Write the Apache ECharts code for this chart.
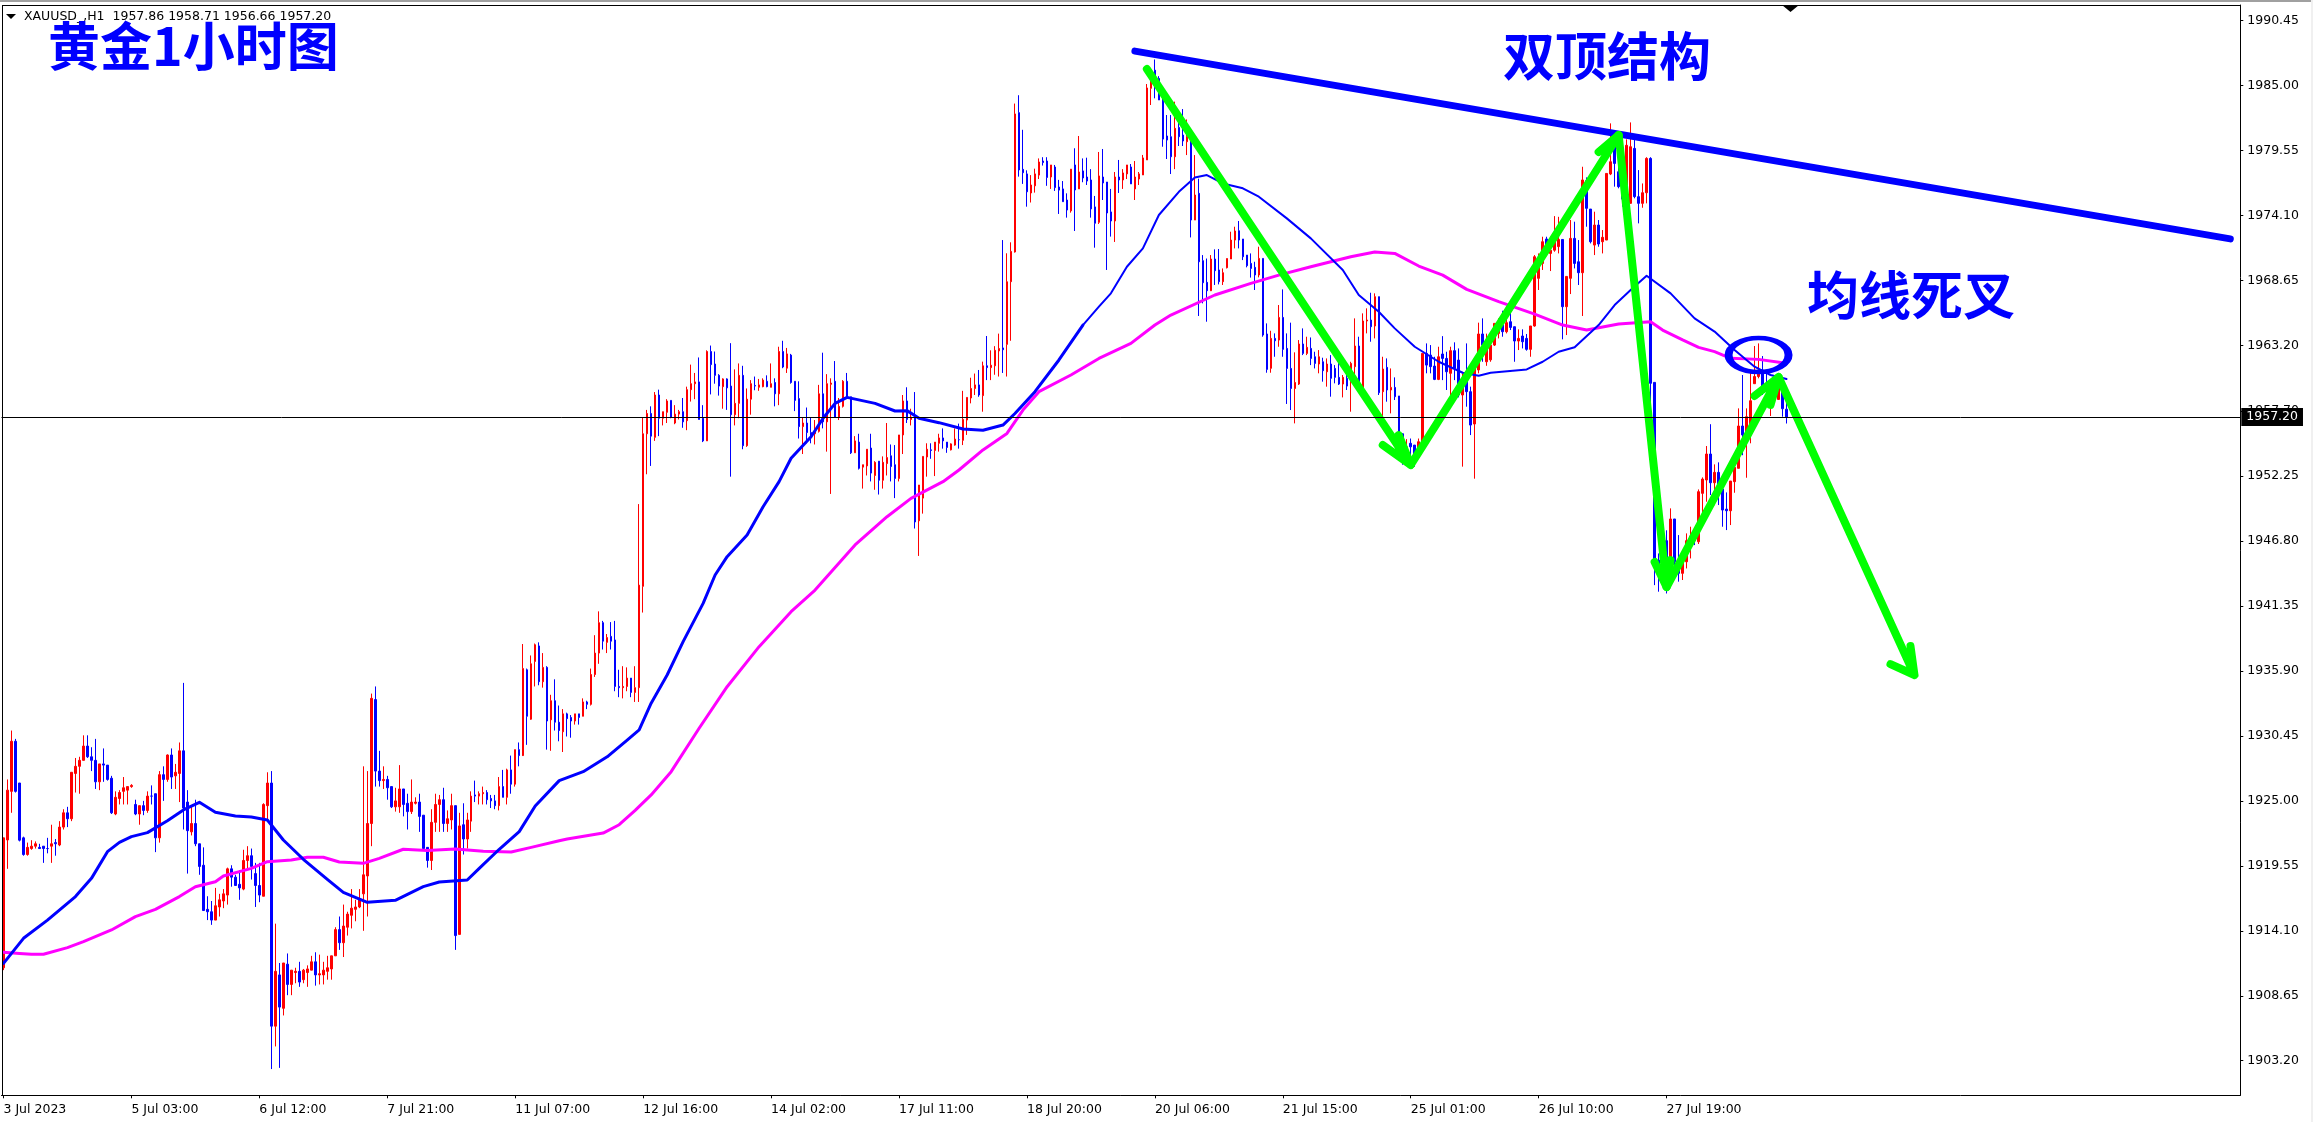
<!DOCTYPE html>
<html><head><meta charset="utf-8"><title>XAUUSD H1</title>
<script src="https://cdn.jsdelivr.net/npm/echarts@6/dist/echarts.min.js"></script>
<style>html,body{margin:0;padding:0;background:#fff}#c{width:2313px;height:1122px}</style></head>
<body><div id="c"></div>
<script>
const opens=[
1911,1921.72,1925.8,1930,1926.5,1921.9,1920.5,1921,1921.2,1921.1,
1921.2,1921,1921.2,1921.5,1921.3,1922.8,1924,1923.5,1927.3,1927.9,
1928.4,1929.6,1928.7,1928.4,1926.6,1928.1,1928,1926.9,1923.9,1925.2,
1925.8,1925.9,1926.2,1924.7,1923.9,1924.6,1924.2,1925.4,1925.6,1921.9,
1927.2,1926.8,1928.85,1927.1,1927.3,1929.2,1924.9,1922.4,1923.1,1921.4,
1919.6,1915.9,1915.7,1915,1916.1,1916.6,1917.1,1919.3,1918.6,1918,
1917.6,1920,1920.4,1918.9,1917.9,1917,1924.6,1926.5,1906.1,1910.4,
1907.6,1911.3,1909.6,1910.6,1910.7,1910,1910.6,1910.8,1911.5,1910.4,
1910.4,1910.7,1910.9,1912,1914.2,1913.1,1914.4,1915.4,1915.9,1916.1,
1917.2,1918.7,1923.1,1933.5,1927.5,1926.7,1926.8,1926.2,1924.5,1924.5,
1926,1924.8,1924.1,1924.8,1924.9,1923.8,1921.1,1920,1923.2,1924.7,
1925.1,1923.1,1923.4,1924.6,1913.8,1923,1921.8,1923.3,1925.5,1925.4,
1925.6,1925.7,1925.2,1925,1924.6,1926.2,1925.3,1927.6,1926.4,1929.3,
1928.8,1936,1931.85,1936.7,1938,1935,1936.2,1931.8,1933.4,1931.6,
1930.8,1932.3,1932,1931.7,1932.3,1932.1,1933.3,1933.1,1935.6,1937.4,
1939.95,1938.3,1938.8,1938.5,1934.6,1934.5,1934.6,1935.3,1934.1,1934.5,
1943,1955.8,1957.5,1955.5,1959.05,1957.1,1957.6,1958.6,1956.7,1957.45,
1957.65,1956.9,1959.5,1960,1960.15,1957.1,1955.2,1962.7,1961.65,1960.7,
1959.75,1960.4,1959.8,1957.4,1958.35,1960.7,1954.8,1958.7,1959.85,1959.7,
1959.75,1960.2,1959.7,1960.1,1959.15,1962.7,1961.3,1962.4,1960.2,1958.75,
1956.4,1956.7,1955.9,1955.8,1956,1959.15,1956.8,1959.95,1960.2,1957.2,
1958.1,1960.2,1958.9,1954.2,1955.1,1953,1953.1,1954.6,1952.3,1953.5,
1951.9,1953.3,1953.95,1953.2,1952.05,1955.7,1958.55,1957,1957.35,1948.5,
1950.4,1953.85,1954.45,1954.4,1955,1955.45,1955.1,1954.45,1954.85,1955.3,
1955.25,1956.95,1958.8,1959.6,1959.9,1959,1961.5,1961.35,1961.5,1962.75,
1963,1963.3,1968.56,1971.05,1982.74,1977.98,1977.6,1976,1976.6,1977.5,
1978.68,1978.68,1977.34,1978.18,1976.5,1976.34,1975.41,1974.5,1978.35,1976.34,
1977.85,1977.34,1977.09,1974.83,1973.54,1977.34,1976.92,1974.41,1973.65,1977.34,
1977.09,1977.6,1978.18,1976.34,1977.17,1977.51,1978.77,1984.78,1986.3,1985.6,
1983.8,1980.78,1980.72,1979.04,1981.5,1980.86,1980.3,1980.44,1973.73,1975.97,
1970.32,1968.5,1967.8,1970.46,1969.54,1968.56,1969.73,1970.46,1972.05,1972.83,
1972.14,1970.79,1970.09,1969.76,1969.12,1970.51,1964.17,1961.29,1963.8,1963.66,
1965.56,1962.96,1961.28,1959.6,1959.97,1963.33,1962.54,1962.96,1962.26,1961.65,
1961.84,1961,1961.65,1961.28,1960.53,1959.97,1960.45,1960.3,1961.43,1963.16,
1959.6,1965.26,1965.34,1964.84,1967.3,1959.33,1961.37,1959.47,1959.69,1958.97,
1955.8,1953.3,1955,1954.85,1954.15,1955.13,1962.54,1962.4,1961.48,1960.36,
1962.49,1962.12,1960.87,1962.77,1961.98,1959.05,1960.87,1959.33,1956.62,1961.15,
1964.17,1961.84,1962,1963.24,1964.22,1964.92,1964.36,1965.2,1964.78,1963.58,
1964,1963.8,1962.88,1964.84,1968.84,1970.09,1972.14,1970.93,1971.2,1971.5,
1972.1,1966.46,1968.84,1972.19,1970.23,1969.31,1977.03,1974.65,1971.63,1973.31,
1971.91,1972.05,1977.59,1980,1977.78,1976.67,1975.7,1975.13,1979.74,1975.69,
1975.13,1976.02,1978.9,1960.11,1945.2,1944.6,1946.83,1945.2,1948.65,1945.2,
1944.09,1945.06,1946.3,1947.22,1946.74,1950.8,1951.92,1954.1,1951.69,1952.56,
1951.16,1949.48,1949.34,1951.78,1952.9,1956.45,1955.7,1955.7,1960,1960.6,
1961.15,1959.9,1958.9,1960.3,1958.68,1959.52,1957.86];
const closes=[
1921.9,1925.9,1930,1925.8,1921.7,1920.5,1921.1,1921.2,1921.4,1921,
1921,1921,1921.4,1921.4,1922.8,1924,1923.5,1927.4,1927.9,1928.4,
1929.6,1928.7,1928.4,1926.6,1928.1,1928,1926.8,1924,1925.3,1925.7,
1926.1,1926.2,1926.3,1923.9,1924.6,1924.2,1925.4,1925.4,1921.9,1927.2,
1926.8,1928.85,1927,1927.4,1929.2,1924.4,1922.5,1923.1,1921.4,1919.5,
1915.8,1915.7,1915,1916.2,1916.7,1917.2,1919.3,1918.6,1917.9,1917.7,
1920,1920.4,1919.5,1917.9,1917.1,1924.7,1926.5,1906.1,1910.7,1907.7,
1911.4,1909.6,1910.8,1910.7,1909.8,1910.8,1910.9,1911.5,1910.4,1910.5,
1910.8,1911,1912,1914.2,1913.1,1914.5,1915.5,1916,1916.1,1916.8,
1918.8,1923.1,1933.6,1927.5,1926.7,1926.8,1926.1,1924.5,1925,1926,
1924.7,1924.1,1924.9,1924.9,1923.7,1921,1920,1923.2,1924.7,1925.1,
1923.1,1923.5,1924.6,1913.7,1922.9,1921.8,1923.4,1925.4,1925.4,1925.6,
1925.7,1925.1,1925,1924.6,1926.2,1925.3,1927.6,1926.4,1929.3,1928.8,
1936.1,1932.1,1936.5,1938.1,1935,1936.2,1931.7,1933.4,1931.6,1930.9,
1932.3,1931.9,1931.7,1932.3,1932,1933.3,1933.1,1935.6,1937.4,1939.95,
1938.4,1938.7,1938.4,1934.6,1934.5,1934.6,1935.3,1934.1,1934.5,1943.1,
1955.8,1957.5,1955.6,1959.05,1957.1,1957.65,1958.55,1957.2,1957.45,1957.65,
1956.8,1959.5,1960,1960.15,1957,1955.2,1962.7,1961.6,1960.7,1959.8,
1960.4,1959.65,1957.4,1958.35,1960.7,1954.8,1958.7,1960,1959.8,1959.9,
1960.3,1959.75,1960,1959.15,1962.7,1961.4,1962.5,1960.1,1958.6,1956.4,
1956.7,1955.9,1955.6,1956.05,1959.15,1956.8,1960,1960.05,1957.2,1958.1,
1960.2,1958.9,1954.2,1955.2,1952.9,1953.2,1954.5,1952.5,1953.4,1951.9,
1953.4,1953.8,1953.05,1952.05,1955.7,1958.55,1957,1957.2,1948.4,1951.5,
1953.9,1954.5,1954.4,1955.1,1955.45,1955.2,1954.65,1954.95,1955.35,1955.3,
1957,1958.85,1959.6,1959.9,1959.05,1961.5,1961.35,1961.55,1962.8,1962.95,
1962.85,1968.55,1971.1,1982.63,1977.93,1977.7,1976.1,1976.67,1977.6,1978.6,
1978.55,1977.3,1978.35,1976.45,1976.24,1975.27,1974.57,1978,1976.25,1977.76,
1977.26,1977,1974.66,1973.46,1977.43,1976.84,1974.32,1973.65,1977.34,1977.09,
1977.68,1978.35,1976.76,1977.34,1977.6,1978.94,1984.81,1986.3,1985.47,1983.8,
1980.52,1980.44,1979.04,1981.42,1980.72,1980.36,1980.72,1973.73,1975.83,1970.23,
1968.47,1967.8,1970.46,1969.48,1968.56,1969.31,1970.5,1972.05,1972.81,1972.05,
1970.65,1969.9,1969.67,1969.12,1970.51,1964.08,1961.2,1963.8,1963.6,1965.56,
1962.88,1961.28,1959.6,1960.1,1963.33,1962.54,1963.05,1962.12,1961.7,1962.26,
1961.09,1961.65,1960.45,1960.53,1959.97,1960.53,1959.8,1961.7,1963.16,1959.6,
1965.26,1965.34,1964.78,1967.3,1959.24,1961.23,1959.47,1959.69,1958.91,1955.69,
1953.4,1954.7,1954.7,1953.9,1955.13,1962.54,1961.56,1961.43,1960.36,1962.26,
1962.12,1961,1962.77,1961.28,1959.05,1959.75,1959.33,1956.53,1961.28,1964.17,
1963.24,1963.24,1963.24,1965.06,1965.06,1964.36,1965.12,1964.72,1963.58,1963.8,
1963.52,1962.88,1964.84,1970.65,1970.09,1971.91,1970.93,1971.2,1972.33,1972.1,
1966.46,1969,1972.19,1970.09,1969.31,1977.09,1974.71,1971.91,1973.31,1971.72,
1972.28,1977.64,1978.62,1978.48,1976.53,1975.49,1980,1979.88,1975.69,1975.13,
1976.02,1978.9,1960.03,1945.2,1944.5,1945.8,1944.65,1948.65,1945.06,1944.09,
1945.06,1946.83,1947.22,1946.83,1950.94,1952,1954.1,1951.69,1952.56,1951.08,
1949.4,1949.34,1951.83,1952.98,1956.45,1955.7,1957.23,1958.57,1960.6,1961.15,
1959.75,1959.5,1959.75,1958.9,1959.75,1957.9,1957.2];
const lows=[
1910.8,1919.3,1924,1925.7,1921.6,1920.4,1920.4,1920.9,1921,1921,
1919.8,1920.6,1919.8,1920.4,1921.2,1922.6,1922.8,1923.3,1925.7,1925.6,
1928.4,1928.6,1927.5,1926,1925.9,1926.6,1926.7,1923.9,1923.8,1924.7,
1924.7,1924.7,1926.1,1923.8,1923,1923.8,1924,1924.7,1920.7,1921.5,
1925,1926.6,1926,1926,1924.9,1922.6,1918.9,1922.1,1921.2,1918.8,
1915.8,1915,1914.6,1915,1915.3,1916,1916.3,1917.8,1917.9,1916.7,
1917.5,1919.2,1918.4,1916.1,1916.5,1917,1923.4,1902.5,1904.4,1902.6,
1907,1908.7,1908.7,1909.7,1909.4,1909.7,1909.4,1910.8,1909.5,1909.6,
1909.6,1910,1910,1912,1912.5,1911.9,1913.7,1914.3,1914.9,1916,
1914.1,1915.3,1921.2,1926.2,1926.2,1926,1925.1,1924.4,1924.1,1924,
1923.7,1922.6,1923.9,1924.7,1922.4,1921,1919.4,1919.2,1922.4,1922.4,
1922.4,1922.4,1922.6,1912.5,1913.8,1920.5,1921,1922.4,1924.9,1924.7,
1924.7,1924.7,1924.4,1924.3,1924.2,1925.3,1924.7,1925.6,1926.2,1927.9,
1928.85,1929.7,1931.8,1934.6,1934.7,1934.5,1929.3,1929.2,1930.9,1930,
1929.1,1930.4,1930.3,1931.4,1931.4,1932.1,1932.7,1933,1935.4,1936.5,
1937.7,1937.4,1937.7,1934.2,1933.7,1933.6,1934.2,1933.7,1933.3,1933.3,
1940.8,1952.4,1953.1,1955.2,1955.6,1956.5,1956.7,1957.1,1956.6,1957,
1956.3,1956.1,1958.5,1958.7,1957,1955.1,1955.2,1959.1,1960,1959,
1957.9,1957.8,1952.2,1956.5,1957.1,1954.5,1954.7,1957.4,1959.45,1959.4,
1959.7,1959.7,1959.7,1958.1,1958.2,1961.3,1960.9,1960,1957.7,1955.4,
1954.1,1955,1955,1954.9,1955.9,1956.25,1954.3,1950.75,1957.2,1956.95,
1958,1958.9,1954.1,1954.2,1952.8,1951.2,1952.3,1951.8,1951.1,1950.7,
1951.2,1952.3,1951.8,1950.4,1951.8,1954.1,1956.7,1956.5,1947.85,1945.55,
1949.1,1952.2,1953.7,1952.25,1954.3,1954.55,1954.2,1954.4,1954.8,1954.55,
1954.85,1955.7,1958.35,1959.05,1958.9,1957.65,1960.3,1960.3,1960.75,1960.6,
1960.9,1960.6,1963.6,1971,1977.37,1976.76,1974.85,1975.2,1976.03,1977.17,
1978.3,1976.6,1976.34,1976.17,1974.24,1975.27,1973.93,1974.35,1972.81,1976.34,
1976.9,1976.67,1973.93,1971.41,1973.4,1975.41,1969.54,1972.34,1971.89,1976,
1976.34,1977.17,1976.76,1975.41,1976.67,1977.51,1978.77,1983.38,1983.94,1983.8,
1979.88,1978.85,1977.59,1978,1979.94,1979.94,1979.18,1972.27,1973.73,1965.68,
1966.74,1965.2,1967.77,1968.28,1968.33,1968.28,1969.67,1970.46,1971.35,1971.35,
1970.37,1969.76,1968.9,1967.86,1968.92,1963.94,1960.92,1960.92,1962.26,1963.1,
1962.26,1958.3,1957.79,1956.67,1959.89,1962.4,1962.4,1961.56,1961.28,1960.87,
1960.17,1959.75,1958.91,1960.03,1959.89,1958.85,1959.47,1957.65,1960.3,1959.33,
1959.47,1964.22,1963.52,1963.8,1959.05,1956.95,1958.49,1957.51,1958.63,1955.69,
1953.2,1953.3,1953.7,1953.03,1953.7,1955,1960.87,1960.87,1960.3,1960.3,
1960.3,1959.47,1959.05,1960.3,1958.85,1953.04,1958.07,1955.69,1952.03,1960.87,
1961.84,1961.5,1961.84,1963.16,1963.8,1963.94,1964.22,1964.5,1961.84,1962.82,
1962.96,1962.77,1962.26,1964.78,1967.86,1969.54,1970.79,1969.45,1971.07,1970.93,
1963.72,1964.08,1967.52,1969.67,1968.28,1965.68,1973.17,1971.77,1970.79,1971.49,
1970.93,1972.05,1977.5,1976.53,1976.39,1974.85,1975.3,1975.13,1975.55,1973.45,
1974.76,1975.13,1958.35,1943.1,1942.55,1943.2,1942.4,1944.5,1943.53,1943.39,
1943.53,1944.5,1945.34,1946.46,1946.55,1948.84,1950.1,1950.66,1949.8,1949.82,
1948,1947.72,1948.14,1950.85,1952.9,1954,1952.11,1955,1960,1960.45,
1959.05,1958.9,1957.29,1958.5,1958.63,1957.23,1956.66];
const highs=[
1921.9,1926.8,1930.9,1930.2,1926.5,1922,1921.5,1921.7,1921.6,1921.4,
1921.2,1921.9,1923,1921.8,1923.3,1924.3,1924.5,1927.4,1928.6,1928.7,
1930.5,1930.5,1929.5,1930.2,1928.1,1929.4,1928,1927.1,1925.8,1925.9,
1927,1926.2,1926.4,1925.1,1924.6,1925,1925.8,1926.3,1925.6,1927.5,
1927.9,1928.9,1929.4,1928.1,1929.9,1934.9,1925.9,1924.6,1925.1,1921.4,
1921.1,1917,1916.6,1917.7,1917.2,1917.6,1919.4,1919.6,1918.8,1919.2,
1920.9,1921.2,1921,1919.8,1919.8,1924.8,1927.4,1927.5,1914.7,1911.4,
1911.4,1912.2,1910.8,1911,1911.5,1910.9,1911.2,1912,1912.3,1912.1,
1911.5,1912,1912,1914.4,1915.3,1916.3,1915.7,1917.6,1916.7,1917.6,
1927.9,1927.5,1934,1934.6,1929.2,1927.9,1927.1,1926.2,1926.1,1928,
1926,1925.6,1926.8,1925.3,1925.6,1923.8,1921.1,1924.3,1925.6,1925.5,
1926.1,1924.2,1925.6,1924.6,1924,1924.8,1924,1925.8,1926.7,1925.8,
1926.2,1925.9,1925.5,1925.5,1927,1927.6,1927.7,1928.8,1929.3,1929.9,
1938.16,1936.1,1937.2,1938.2,1938.3,1937.4,1936.3,1933.9,1935.2,1933,
1932.7,1932.4,1932.2,1932.3,1932.3,1933.6,1933.4,1936.1,1938.9,1940.9,
1940.1,1939,1940,1940.1,1936,1936.3,1936.2,1935.3,1936.3,1949.9,
1957.2,1957.8,1958.1,1959.3,1959.5,1957.65,1958.7,1958.6,1958.2,1957.8,
1958.8,1959.75,1961.6,1960.9,1962.2,1958.2,1962.8,1963.2,1962.7,1960.8,
1960.45,1960.45,1963.4,1961.2,1961.7,1961.5,1959.6,1960.3,1960.6,1960.4,
1960.45,1960.7,1961.7,1960.45,1963.1,1963.6,1963,1962.5,1960.2,1960.2,
1957.2,1958,1957.2,1956.95,1959.9,1962.6,1960.8,1960.45,1961.9,1958.8,
1960.3,1960.9,1958.9,1955.6,1955.8,1953.2,1954.5,1955.8,1953.5,1953.5,
1953.9,1956.7,1954.9,1954.85,1955.7,1959.05,1959.7,1957.9,1959.3,1951.5,
1953.9,1955,1955,1955.1,1955.8,1956.25,1955.1,1955,1956.25,1956.65,
1959.4,1958.85,1960.5,1960.85,1961.15,1961.85,1964,1962.8,1963.15,1964.2,
1972.05,1970.94,1971.86,1983.5,1984.2,1981.3,1977.9,1977.5,1978.04,1978.9,
1979,1979,1978.35,1978.35,1977.1,1977,1975.97,1978,1979.75,1980.78,
1978.9,1978.96,1978,1975.75,1979.44,1979.69,1976.92,1976.34,1977.76,1978.77,
1978,1978.35,1978.43,1978.68,1977.76,1979.19,1985.14,1986.45,1987.2,1985.8,
1984,1982.54,1982.54,1983.66,1982.4,1983.04,1982.17,1981.42,1979.18,1977.2,
1970.79,1970.5,1970.79,1971.27,1971.3,1969.67,1970.5,1972.75,1973.17,1973.65,
1972.14,1970.79,1970.93,1970.23,1971.49,1970.51,1965.06,1964.44,1964.22,1966.6,
1967.91,1964.22,1965.12,1962.63,1963.66,1964.64,1963.94,1963.88,1962.68,1962.82,
1962.18,1962.12,1962.4,1961.56,1962.12,1960.73,1961.15,1961.84,1965.48,1963.94,
1965.9,1966.32,1967.63,1967.58,1967.3,1962.26,1962.12,1961.28,1960.53,1958.97,
1955.8,1955.35,1955.4,1954.85,1955.4,1962.54,1963.38,1963.24,1962.26,1963.1,
1963.99,1962.68,1963.1,1963.47,1962.96,1960.87,1963.38,1959.75,1961.56,1965.12,
1965.48,1964.2,1963.52,1965.06,1965.48,1966.12,1966.04,1966.04,1964.78,1964.56,
1964.56,1964.17,1964.84,1970.79,1970.93,1972.33,1972.33,1972.33,1974.06,1974,
1972.1,1969.03,1973.73,1973.59,1972.05,1978.2,1977.31,1974.65,1974.43,1973.73,
1972.89,1977.64,1981.84,1981,1978.48,1977.64,1980.5,1981.92,1980.44,1977.92,
1976.8,1979,1979,1960.11,1945.76,1946.3,1947.7,1949.54,1948.65,1947.3,
1945.76,1947.44,1948,1947.44,1951.13,1952.14,1954.77,1956.6,1953.23,1953.4,
1952.06,1950.88,1951.83,1953.32,1957.93,1960.73,1957.93,1961,1963.16,1963.38,
1962.32,1961,1959.9,1960.3,1960,1959.75,1958.71];

// moving averages: [bar index, price]
const maFast=[[0,1911.37],[5,1913.47],[11,1915],[18,1916.97],[22,1918.5],[26,1920.74],[29,1921.52],[32,1922],[36,1922.34],[41,1923.34],[45,1924.24],[49,1924.88],[53,1924.04],[58,1923.73],[62,1923.65],[66,1923.4],[70,1921.72],[75,1920.1],[81,1918.42],[85,1917.33],[91,1916.49],[98,1916.66],[105,1917.81],[109,1918.2],[116,1918.36],[119,1919.34],[124,1920.94],[129,1922.42],[133,1924.57],[139,1926.7],[145,1927.45],[151,1928.7],[156,1930.1],[159,1930.95],[162,1933.2],[166,1935.56],[170,1938.36],[175,1941.57],[178,1943.95],[181,1945.49],[186,1947.3],[190,1949.68],[194,1951.78],[197,1953.74],[202,1955.55],[205,1957.1],[208,1958.35],[211,1958.85],[218,1958.35],[223,1957.71],[226,1957.74],[229,1957.1],[234,1956.73],[240,1956.2],[245,1956.1],[250,1956.53],[253,1957.5],[258,1959.33],[264,1961.99],[270,1964.92]];
const maFastLate=[[270,1964.92],[274,1966.46],[277,1967.58],[281,1969.81],[285,1971.35],[289,1974.15],[294,1976.1],[298,1977.3],[301,1977.5],[305,1976.8],[310,1976.39],[314,1975.69],[321,1973.87],[327,1972.19],[335,1969.54],[339,1967.44],[344,1966.04],[348,1964.64],[353,1963.1],[359,1961.84],[365,1960.92],[369,1960.67],[372,1960.92],[381,1961.2],[385,1961.84],[389,1962.68],[393,1963.05],[399,1964.92],[403,1966.6],[407,1967.86],[411,1969.06],[417,1967.58],[423,1965.48],[428,1964.37],[433,1962.83],[438,1961.43],[442,1960.73],[446,1960.4]];
const maSlow=[[0,1912.3],[4,1912.2],[7,1912.13],[10,1912.13],[16,1912.69],[20,1913.19],[27,1914.17],[33,1915.29],[38,1915.9],[44,1916.97],[48,1917.8],[53,1918.22],[55,1918.7],[62,1919.34],[66,1919.9],[72,1920.04],[76,1920.27],[80,1920.27],[84,1919.87],[90,1919.76],[94,1920.18],[100,1920.94],[106,1920.83],[113,1920.97],[120,1920.77],[127,1920.71],[132,1921.1],[139,1921.66],[141,1921.8],[150,1922.3],[154,1923],[158,1924.2],[162,1925.5],[167,1927.45],[174,1931.09],[181,1934.58],[189,1937.94],[197,1940.87],[203,1942.69],[213,1946.47],[221,1948.84],[227,1950.38],[235,1951.78],[239,1952.76],[245,1954.44],[251,1955.83],[255,1957.79],[259,1959.33],[267,1960.73],[274,1962.12],[282,1963.38],[288,1964.92],[292,1965.76],[303,1967.44],[312,1968.42],[319,1969.11],[327,1969.81],[337,1970.65],[343,1971.05],[348,1970.93],[354,1969.87],[360,1969.11],[366,1967.91],[374,1966.88],[383,1965.84],[390,1964.92],[396,1964.5],[404,1965],[412,1965.2],[415,1964.5],[420,1963.67],[424,1963.05],[428,1962.69],[432,1962.13],[439,1962.04],[445,1961.76],[446,1961.7]];

// hand-drawn annotations on the reference: [bar index, price]
const resistanceLine=[[283,1987.9],[557,1972.15]];
const arrowDown1=[[286,1986.4],[352,1953.18],[345,1954.85],[352,1953.18],[349,1955.69]];
const arrowUp1=[[352,1953.18],[404,1980.86],[399,1979.44]];
const arrowDown2=[[404,1980.86],[416,1942.94],[413,1945.04],[416,1942.94],[417,1945.2]];
const arrowUp2=[[416,1942.94],[444,1960.56],[438,1958.97],[444,1960.56],[442,1958.21]];
const arrowDown3=[[444,1960.56],[478,1935.56],[472,1936.48],[478,1935.56],[477,1938]];
const crossCircle=[[439,1962.4]];

const dateTicks=['3 Jul 2023','5 Jul 03:00','6 Jul 12:00','7 Jul 21:00','11 Jul 07:00','12 Jul 16:00','14 Jul 02:00','17 Jul 11:00','18 Jul 20:00','20 Jul 06:00','21 Jul 15:00','25 Jul 01:00','26 Jul 10:00','27 Jul 19:00'];
const priceTicks=['1990.45','1985.00','1979.55','1974.10','1968.65','1963.20','1957.70','1952.25','1946.80','1941.35','1935.90','1930.45','1925.00','1919.55','1914.10','1908.65','1903.20'];
const titleText='黄金1小时图', leftNote='双顶结构', rightNote='均线死叉';
const legendText='XAUUSD_,H1  1957.86 1958.71 1956.66 1957.20';
const lastPrice=1957.20;
const barsPerTick=32, slotCount=560;

const cats=Array.from({length:slotCount},(_,i)=>String(i));
const candles=opens.map((o,i)=>[o,closes[i],lows[i],highs[i]]);
const isTick=i=>i%barsPerTick===0 && i/barsPerTick<dateTicks.length;
const FONT='"DejaVu Sans"', CJK='"Noto Sans CJK SC"';
const BLUE='#0000ff', GREEN='#00ff00';
const annot=(name,data,color,width,z)=>({name,type:'line',data,showSymbol:false,symbol:'none',silent:true,z,animation:false,
  lineStyle:{color,width,cap:'round',join:'round'}});
const note=(text,left,top,size)=>({type:'text',left,top,z:100,style:{text,font:'bold '+size+'px '+CJK,fill:BLUE,textShadowColor:'#00003a',textShadowBlur:0,textShadowOffsetX:1,textShadowOffsetY:2}});

const chart=echarts.init(document.getElementById('c'),null,{renderer:'canvas',width:2313,height:1122});
chart.setOption({
  animation:false,backgroundColor:'#ffffff',
  grid:{left:1.5,top:5,width:2238.8,height:1090.3,show:false},
  xAxis:{type:'category',data:cats,boundaryGap:true,
    axisLine:{show:true,lineStyle:{color:'#000',width:1}},
    axisTick:{show:true,length:3,alignWithLabel:true,interval:(i)=>isTick(i),lineStyle:{color:'#000'}},
    axisLabel:{show:true,interval:(i)=>isTick(i),align:'left',margin:8,color:'#000',fontFamily:FONT,fontSize:12.5,hideOverlap:false,
      formatter:(v,i)=>dateTicks[i/barsPerTick]||''},
    splitLine:{show:false}},
  yAxis:{type:'value',position:'right',min:1900.30,max:1991.77,scale:true,
    axisLine:{show:true,onZero:false,lineStyle:{color:'#000',width:1}},
    axisTick:{show:true,length:3,lineStyle:{color:'#000'},customValues:priceTicks.map(Number)},
    axisLabel:{show:true,margin:7,color:'#000',fontFamily:FONT,fontSize:12.5,padding:[6,0,0,0],customValues:priceTicks.map(Number),formatter:v=>v.toFixed(2)},
    splitLine:{show:false}},
  series:[
    {name:'XAUUSD',type:'candlestick',data:candles,barWidth:2,z:2,silent:true,
     itemStyle:{color:'#ff0000',color0:'#0000ff',borderColor:'#ff0000',borderColor0:'#0000ff',borderColorDoji:'#0000ff',borderWidth:1},
     markLine:{silent:true,symbol:'none',animation:false,z:50,lineStyle:{color:'#000',width:1,type:'solid'},
       data:[{yAxis:lastPrice}],
       label:{show:true,position:'end',distance:1,color:'#fff',backgroundColor:'#000',fontFamily:FONT,fontSize:12.5,padding:[3,5,2,5],formatter:()=>lastPrice.toFixed(2)}}},
    annot('maFast',maFast,BLUE,3,5),
    annot('maFastLate',maFastLate,BLUE,2,5),
    annot('maSlow',maSlow,'#ff00ff',3,4),
    annot('resistance',resistanceLine,BLUE,7,8),
    annot('down1',arrowDown1,GREEN,8,9),
    annot('up1',arrowUp1,GREEN,8,9),
    annot('down2',arrowDown2,GREEN,8,9),
    annot('up2',arrowUp2,GREEN,8,9),
    annot('down3',arrowDown3,GREEN,8,9),
    {name:'cross',type:'scatter',data:crossCircle,symbol:'circle',symbolSize:[60,34],silent:true,z:8,
     itemStyle:{color:'rgba(0,0,0,0)',borderColor:BLUE,borderWidth:6,opacity:1}}
  ],
  graphic:[
    {type:'rect',left:0,top:0,shape:{width:2313,height:2},style:{fill:'#a0a0a0'},z:90},
    {type:'rect',left:2311,top:0,shape:{width:2,height:1122},style:{fill:'#f0f0f0'},z:90},
    {type:'rect',left:2,top:5,shape:{width:1,height:1090},style:{fill:'#000'},z:90},
    {type:'rect',left:2,top:5,shape:{width:2238,height:1},style:{fill:'#000'},z:90},
    {type:'polygon',shape:{points:[[6,14],[16,14],[11,19]]},style:{fill:'#000'},z:90},
    {type:'polygon',shape:{points:[[1782,5],[1799,5],[1790.5,12]]},style:{fill:'#000'},z:90},
    {type:'text',left:24,top:10,z:95,style:{text:legendText,font:'12.5px '+FONT,fill:'#000'}},
    note(titleText,48,20,52),
    note(leftNote,1503,30,52),
    note(rightNote,1807,269,52)
  ]
});
</script></body></html>
